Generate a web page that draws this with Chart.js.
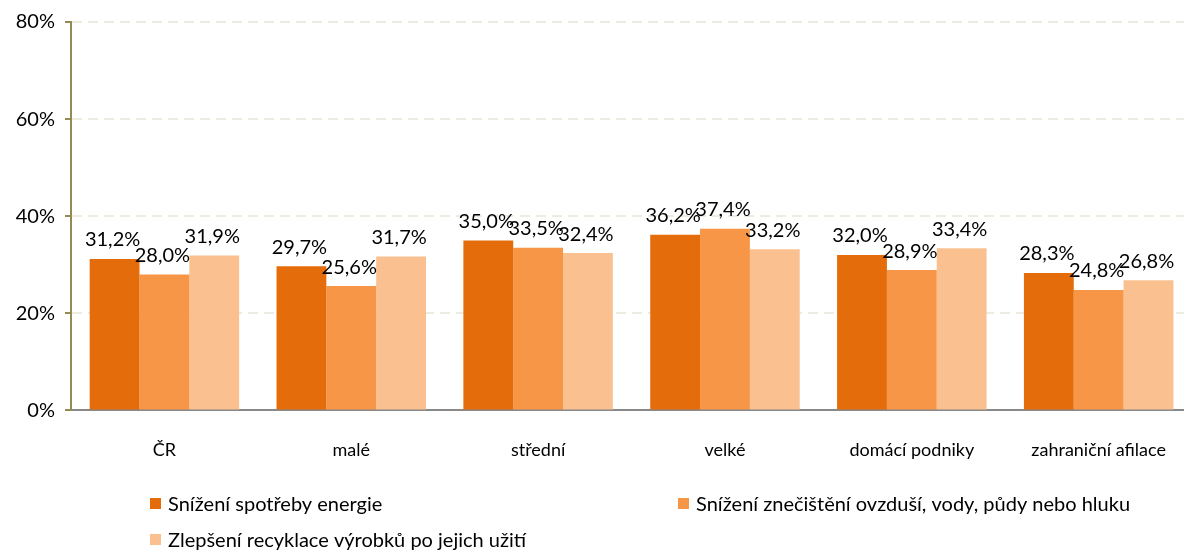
<!DOCTYPE html>
<html>
<head>
<meta charset="utf-8">
<script src="https://cdn.jsdelivr.net/npm/chart.js@4.4.1/dist/chart.umd.min.js"></script>
<style>
  html, body { margin: 0; padding: 0; background: #fff; overflow: hidden; }
  #wrap { width: 1184px; height: 550px; overflow: hidden; }
</style>
</head>
<body>
<div id="wrap"><canvas id="barChart" width="1195" height="550"></canvas></div>
<script>
// DATA
const categories = ["ČR", "malé", "střední", "velké", "domácí podniky", "zahraniční afilace"]
const energie = [31.2, 29.7, 35.0, 36.2, 32.0, 28.3]
const znecisteni = [28.0, 25.6, 33.5, 37.4, 28.9, 24.8]
const recyklace = [31.9, 31.7, 32.4, 33.2, 33.4, 26.8]
const seriesNames = [
    "Snížení spotřeby energie",
    "Snížení znečištění ovzduší, vody, půdy nebo hluku",
    "Zlepšení recyklace výrobků po jejich užití"
]
const yTicks = [0, 20, 40, 60, 80]

const colors = ["#E46C0A", "#F79646", "#FAC090"]
const fontFamily = "Lato, 'Open Sans', sans-serif"

// value labels above bars
const valueLabels = {
    id: "valueLabels",
    afterDatasetsDraw(chart) {
        const ctx = chart.ctx
        ctx.save()
        ctx.font = "20px " + fontFamily
        ctx.fillStyle = "#000"
        ctx.textAlign = "center"
        ctx.textBaseline = "bottom"
        chart.data.datasets.forEach((ds, i) => {
            chart.getDatasetMeta(i).data.forEach((bar, j) => {
                const txt = ds.data[j].toFixed(1).replace(".", ",") + "%"
                ctx.fillText(txt, bar.x - 2, bar.y - 9)
            })
        })
        ctx.restore()
    }
}

// legend drawn under the axis, two columns
const bottomLegend = {
    id: "bottomLegend",
    afterDraw(chart) {
        const ctx = chart.ctx
        const spots = [[150, 504], [678, 504], [150, 540]]
        ctx.save()
        ctx.font = "20px " + fontFamily
        ctx.textBaseline = "middle"
        ctx.textAlign = "left"
        seriesNames.forEach((name, i) => {
            const [x, y] = spots[i]
            ctx.fillStyle = colors[i]
            ctx.fillRect(x, y - 6, 11, 11)
            ctx.fillStyle = "#000"
            ctx.fillText(name, x + 18, y + 1)
        })
        ctx.restore()
    }
}

const chart = new Chart(document.getElementById("barChart"), {
    type: "bar",
    data: {
        labels: categories,
        datasets: [
            { label: seriesNames[0], data: energie, backgroundColor: colors[0] },
            { label: seriesNames[1], data: znecisteni, backgroundColor: colors[1] },
            { label: seriesNames[2], data: recyklace, backgroundColor: colors[2] }
        ]
    },
    options: {
        responsive: false,
        animation: false,
        categoryPercentage: 0.8,
        barPercentage: 1,
        layout: { padding: { top: 12, right: 0, bottom: 60, left: 1 } },
        plugins: {
            legend: { display: false },
            tooltip: { enabled: false }
        },
        scales: {
            x: {
                grid: { display: false, drawTicks: false },
                border: { color: "#898989", width: 2 },
                ticks: { color: "#000", font: { family: fontFamily, size: 18 }, padding: 29 }
            },
            y: {
                min: 0,
                max: 80,
                afterBuildTicks(axis) { axis.ticks = yTicks.map(v => ({ value: v })) },
                grid: {
                    color: ctx => ctx.tick.value === 0 ? "rgba(0,0,0,0)" : "#EEECE1",
                    lineWidth: 2,
                    tickColor: "#948A54",
                    tickLength: 6
                },
                border: { color: "#948A54", width: 2, dash: [10, 6] },
                ticks: {
                    color: "#000",
                    font: { family: fontFamily, size: 20 },
                    padding: 10,
                    callback: v => v + "%"
                },
                afterFit(axis) { axis.width = 70 }
            }
        }
    },
    plugins: [valueLabels, bottomLegend]
})
</script>
</body>
</html>
